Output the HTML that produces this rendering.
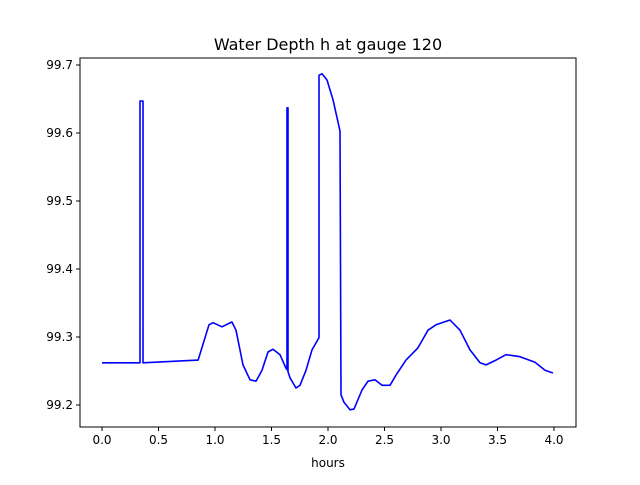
<!DOCTYPE html>
<html><head><meta charset="utf-8"><style>
body{margin:0;background:#fff}
svg text{font-family:"DejaVu Sans","Liberation Sans",sans-serif;fill:#000}
</style></head><body>
<svg id="chart" width="640" height="480">
<rect width="640" height="480" fill="#fff"/>
<text x="328" y="50" font-size="16" text-anchor="middle">Water Depth h at gauge 120</text>
<g id="plot"></g>
<text x="328" y="467" font-size="12" text-anchor="middle">hours</text>
</svg>
<script>
const xTicks=[0,0.5,1,1.5,2,2.5,3,3.5,4];
const xTickLabels=["0.0","0.5","1.0","1.5","2.0","2.5","3.0","3.5","4.0"];
const yTicks=[99.2,99.3,99.4,99.5,99.6,99.7];
const yTickLabels=["99.2","99.3","99.4","99.5","99.6","99.7"];
const times=[0,0.336,0.336,0.363,0.363,0.850,0.947,0.982,1.062,1.150,1.186,1.248,1.310,1.363,1.416,1.469,1.513,1.575,1.628,1.637,1.637,1.646,1.646,1.664,1.717,1.752,1.805,1.858,1.920,1.920,1.947,1.991,2.044,2.106,2.115,2.142,2.195,2.230,2.301,2.354,2.416,2.478,2.549,2.602,2.690,2.796,2.885,2.956,3.080,3.168,3.257,3.345,3.398,3.487,3.575,3.699,3.832,3.920,3.991];
const depths=[99.262,99.262,99.647,99.647,99.262,99.266,99.318,99.321,99.315,99.322,99.310,99.259,99.237,99.235,99.251,99.278,99.282,99.274,99.254,99.252,99.637,99.637,99.249,99.240,99.225,99.229,99.251,99.281,99.299,99.685,99.687,99.678,99.649,99.603,99.215,99.204,99.193,99.194,99.222,99.235,99.237,99.229,99.229,99.244,99.266,99.284,99.310,99.318,99.325,99.310,99.281,99.262,99.259,99.266,99.274,99.271,99.263,99.251,99.247];
const L=80,R=576,T=58,B=427;
const xS=t=>102+(t-0)*113;
const yS=h=>405-(h-99.2)*680;
const NS="http://www.w3.org/2000/svg";
const g=document.getElementById('plot');
function mk(tag,attrs){const e=document.createElementNS(NS,tag);for(const k in attrs)e.setAttribute(k,attrs[k]);g.appendChild(e);return e;}
const pts=times.map((t,i)=>xS(t).toFixed(1)+","+yS(depths[i]).toFixed(1)).join(" ");
const line=mk('polyline',{points:pts,fill:"none",stroke:"#0000ff","stroke-width":1.6,"stroke-linejoin":"round"});


const frame=mk('rect',{x:L,y:T,width:R-L,height:B-T,fill:"none",stroke:"#000","stroke-width":1});


xTicks.forEach((v,i)=>{
 const x=xS(v);
 const tk=mk('line',{x1:x,x2:x,y1:B,y2:B+4,stroke:"#000"});
 
 
 const tx=mk('text',{x:x,y:B+17,"font-size":12,"text-anchor":"middle"});
 tx.textContent=xTickLabels[i];
 
 
});
yTicks.forEach((v,i)=>{
 const y=yS(v);
 const tk=mk('line',{x1:L-4,x2:L,y1:y,y2:y,stroke:"#000"});
 
 
 const tx=mk('text',{x:L-7,y:y+4,"font-size":12,"text-anchor":"end"});
 tx.textContent=yTickLabels[i];
 
 
});
</script>
</body></html>
